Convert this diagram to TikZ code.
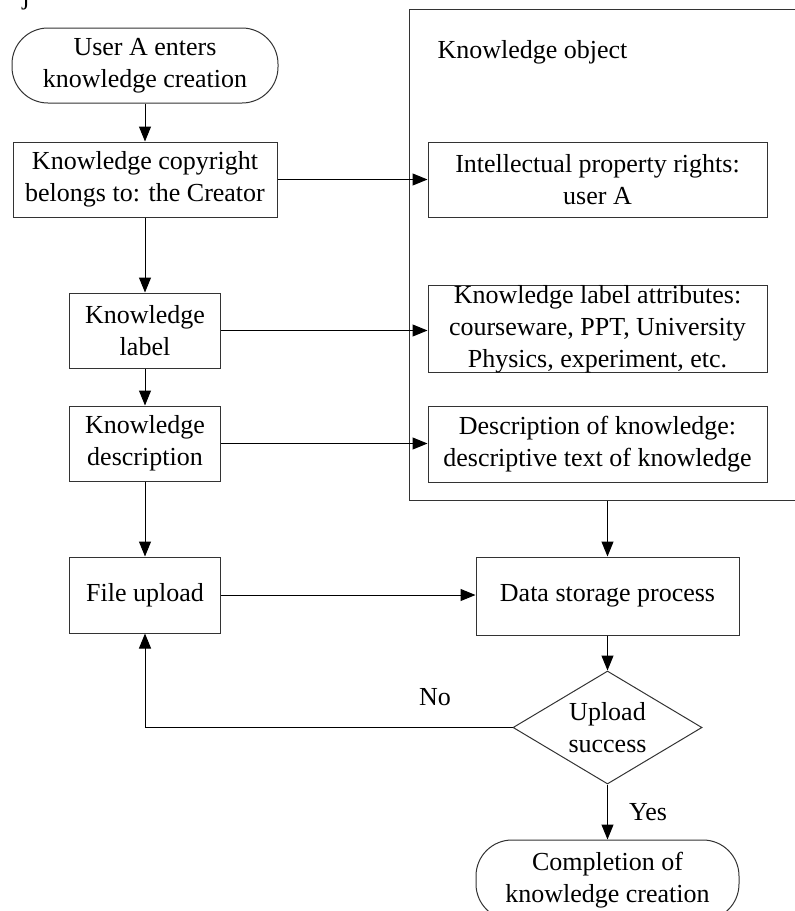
\documentclass[tikz,border=0pt]{standalone}
\usepackage{fontspec}
\setmainfont{Liberation Serif}
\usetikzlibrary{arrows.meta,shapes.geometric}

\begin{document}
\begin{tikzpicture}[x=1pt,y=-1pt,
  font=\fontsize{26}{32}\selectfont,
  line width=1pt,
  box/.style={draw=black!80, rectangle, align=center, inner sep=0pt},
  term/.style={draw=black!80, rectangle, rounded corners=36pt, align=center, inner sep=0pt},
  decision/.style={draw=black!80, diamond, aspect=1.67, align=center, inner sep=0pt,
                   minimum width=189pt, minimum height=113pt},
  arr/.style={draw=black, -{Triangle[length=15pt,width=12pt]}},
  lbl/.style={inner sep=0pt}
]
\useasboundingbox (0,0) rectangle (795,911);

% fragment of a caption line, clipped by the page edge
\node[lbl, anchor=base] (frag) at (26,4) {j};

% left column
\node[term, minimum width=266pt, minimum height=75pt] (start) at (145,65.5)
  {User A enters\\knowledge creation};
\node[box, minimum width=264pt, minimum height=75pt] (copy) at (145,179.5)
  {Knowledge copyright\\belongs to: the Creator};
\node[box, minimum width=151pt, minimum height=75pt] (label) at (145,330.5)
  {Knowledge\\label};
\node[box, minimum width=151pt, minimum height=75pt] (desc) at (145,443.5)
  {Knowledge\\description};
\node[box, minimum width=151pt, minimum height=76pt] (upload) at (145,595)
  {File upload};

% knowledge object container
\node[draw=black!80, rectangle, inner sep=0pt, minimum width=401pt, minimum height=491pt]
  (kobj) at (609.5,254.5) {};
\node[lbl, anchor=base west] (ktitle) at (437,58) {Knowledge object};

\node[box, minimum width=339pt, minimum height=75pt] (ipr) at (597.5,179.5)
  {Intellectual property rights:\\user A};
\node[box, minimum width=339pt, minimum height=86pt] (attr) at (597.5,329)
  {Knowledge label attributes:\\courseware, PPT, University\\Physics, experiment, etc.};
\node[box, minimum width=339pt, minimum height=76pt] (dobj) at (597.5,444)
  {Description of knowledge:\\descriptive text of knowledge};

% storage and check
\node[box, minimum width=263pt, minimum height=78pt] (store) at (607.5,596)
  {Data storage process};
\node[decision] (check) at (607.5,727.5) {Upload\\success};
\node[term, minimum width=263pt, minimum height=80pt] (finish) at (607.5,880)
  {Completion of\\knowledge creation};

% connectors
\draw[arr] (start.south) -- (copy.north);
\draw[arr] (copy.south) -- (label.north);
\draw[arr] (label.south) -- (desc.north);
\draw[arr] (desc.south) -- (upload.north);
\draw[arr] (copy.east) -- (ipr.west);
\draw[arr] (label.east) -- (label.east -| attr.west);
\draw[arr] (desc.east) -- (desc.east -| dobj.west);
\draw[arr] (upload.east) -- (upload.east -| store.west);
\coordinate (kout) at (store.north |- kobj.south);
\draw[arr] (kout) -- (store.north);
\draw[arr] (store.south) -- (check.north);
\draw[arr] (check.west) -| (upload.south);
\draw[arr] (check.south) -- (finish.north);

\node[lbl] (no) at (435,697) {No};
\node[lbl] (yes) at (648,812) {Yes};
\end{tikzpicture}
\end{document}
